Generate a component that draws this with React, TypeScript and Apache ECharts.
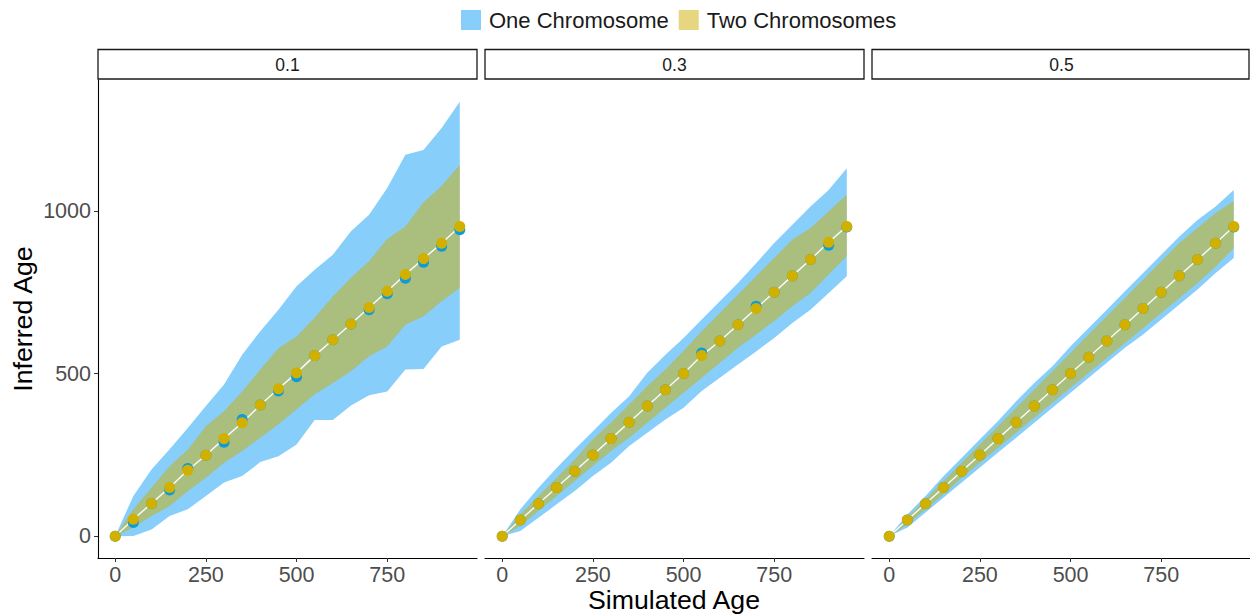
import React, { useEffect, useRef } from "react";
import * as echarts from "echarts";

// ---- data ----
const simAge = [0, 50, 100, 150, 200, 250, 300, 350, 400, 450, 500, 550, 600, 650, 700, 750, 800, 850, 900, 950];
const panelLabels = ["0.1", "0.3", "0.5"];
const xTicks = [0, 250, 500, 750];
const yTicks = [0, 500, 1000];

// panel 0.1
const oneLower1 = [0, 1, 21, 62, 83, 124, 165, 185, 228, 246, 282, 357, 357, 402, 433, 445, 512, 514, 583, 604];
const oneUpper1 = [0, 124, 205, 267, 333, 400, 466, 558, 630, 696, 768, 819, 865, 937, 988, 1070, 1172, 1187, 1254, 1335];
const twoLower1 = [0, 27, 62, 93, 139, 180, 226, 262, 303, 344, 390, 436, 471, 507, 553, 583, 650, 676, 722, 763];
const twoUpper1 = [0, 83, 149, 215, 266, 338, 384, 445, 512, 578, 614, 671, 737, 794, 845, 913, 952, 1026, 1076, 1141];
const oneMean1 = [0, 42, 101, 142, 208, 249, 289, 359, 403, 446, 490, 555, 604, 652, 696, 745, 793, 842, 891, 942];
const twoMean1 = [0, 52, 101, 150, 203, 249, 300, 349, 403, 453, 502, 555, 604, 652, 703, 753, 804, 853, 900, 952];

// panel 0.3
const oneLower2 = [0, 16, 57, 98, 139, 185, 226, 277, 318, 359, 395, 446, 487, 528, 568, 609, 655, 696, 747, 799];
const oneUpper2 = [0, 83, 149, 210, 267, 323, 379, 430, 502, 558, 609, 666, 722, 778, 839, 901, 957, 1013, 1064, 1131];
const twoLower2 = [0, 32, 78, 124, 170, 216, 262, 303, 349, 395, 441, 487, 533, 579, 620, 661, 707, 747, 804, 860];
const twoUpper2 = [0, 67, 124, 180, 236, 298, 349, 405, 461, 512, 569, 630, 686, 742, 799, 855, 911, 947, 998, 1049];
const oneMean2 = [0, 50, 100, 150, 200, 250, 300, 350, 400, 450, 500, 563, 600, 650, 707, 750, 800, 850, 894, 950];
const twoMean2 = [0, 50, 100, 150, 200, 250, 300, 350, 400, 450, 500, 555, 600, 650, 700, 750, 800, 850, 903, 952];

// panel 0.5
const oneLower3 = [0, 27, 73, 119, 165, 211, 257, 303, 349, 395, 441, 487, 533, 579, 620, 666, 712, 758, 809, 855];
const oneUpper3 = [0, 67, 124, 185, 241, 298, 354, 415, 471, 522, 584, 640, 696, 753, 809, 865, 921, 972, 1013, 1064];
const twoLower3 = [0, 37, 83, 129, 180, 226, 272, 318, 364, 410, 456, 502, 548, 594, 640, 686, 732, 778, 829, 885];
const twoUpper3 = [0, 57, 113, 170, 226, 282, 338, 395, 451, 507, 563, 620, 676, 732, 788, 845, 901, 947, 993, 1029];
const oneMean3 = [0, 50, 100, 150, 200, 250, 300, 350, 400, 450, 500, 550, 600, 650, 700, 750, 800, 850, 900, 950];
const twoMean3 = [0, 50, 100, 150, 200, 250, 300, 350, 400, 450, 500, 550, 600, 650, 700, 750, 800, 850, 900, 952];

const panels = [
  { oneLower: oneLower1, oneUpper: oneUpper1, twoLower: twoLower1, twoUpper: twoUpper1, oneMean: oneMean1, twoMean: twoMean1 },
  { oneLower: oneLower2, oneUpper: oneUpper2, twoLower: twoLower2, twoUpper: twoUpper2, oneMean: oneMean2, twoMean: twoMean2 },
  { oneLower: oneLower3, oneUpper: oneUpper3, twoLower: twoLower3, twoUpper: twoUpper3, oneMean: oneMean3, twoMean: twoMean3 },
];

const ONE_NAME = "One Chromosome";
const TWO_NAME = "Two Chromosomes";
const ONE_FILL = "#87CEFA";
const TWO_FILL = "rgba(205,173,0,0.5)";
const ONE_POINT = "#0E9BDD";
const TWO_POINT = "#D1B000";
const FONT = "'Liberation Sans', Arial, Helvetica, sans-serif";

const GRID_LEFTS = [98, 485, 872];
const GRID_W = 379;
const GRID_TOP = 80;
const GRID_H = 478;
const X_MIN = -47.5;
const X_MAX = 997.5;
const Y_MIN = -66.75;
const Y_MAX = 1401.75;

function ribbonSeries(name: string, gridIdx: number, lower: number[], upper: number[], fill: string) {
  const rows = simAge.map((x, k) => [x, lower[k], upper[k]]);
  return {
    type: "custom",
    name,
    xAxisIndex: gridIdx,
    yAxisIndex: gridIdx,
    silent: true,
    z: 1,
    itemStyle: { color: fill },
    encode: { x: 0, y: [1, 2] },
    data: rows,
    renderItem: (params: any, api: any) => {
      if (params.dataIndex !== 0) return null;
      const top = rows.map((r) => api.coord([r[0], r[2]]));
      const bottom = rows.map((r) => api.coord([r[0], r[1]])).reverse();
      return {
        type: "polygon",
        shape: { points: top.concat(bottom) },
        style: { fill, stroke: "none" },
      };
    },
  };
}

export default function App() {
  const ref = useRef<HTMLDivElement>(null);

  useEffect(() => {
    if (!ref.current) return;
    const chart = echarts.init(ref.current, undefined, { renderer: "svg" });

    const grids = GRID_LEFTS.map((left) => ({
      left,
      top: GRID_TOP,
      width: GRID_W,
      height: GRID_H,
      containLabel: false,
      outerBoundsMode: "none",
    }));

    const xAxes = GRID_LEFTS.map((_, i) => ({
      type: "value",
      gridIndex: i,
      min: X_MIN,
      max: X_MAX,
      splitLine: { show: false },
      axisLine: { show: true, onZero: false, lineStyle: { color: "#000000", width: 1.1 } },
      axisTick: { show: true, customValues: xTicks, length: 4, lineStyle: { color: "#333333", width: 1 } },
      axisLabel: {
        show: true,
        customValues: xTicks,
        margin: 6,
        color: "#4D4D4D",
        fontSize: 21.5,
        fontFamily: FONT,
        formatter: (v: number) => String(v),
      },
    }));

    const yAxes = GRID_LEFTS.map((_, i) => ({
      type: "value",
      gridIndex: i,
      min: Y_MIN,
      max: Y_MAX,
      splitLine: { show: false },
      axisLine: { show: i === 0, onZero: false, lineStyle: { color: "#000000", width: 1.1 } },
      axisTick: { show: i === 0, customValues: yTicks, length: 4, lineStyle: { color: "#333333", width: 1 } },
      axisLabel: {
        show: i === 0,
        customValues: yTicks,
        margin: 7,
        color: "#4D4D4D",
        fontSize: 21.5,
        fontFamily: FONT,
        formatter: (v: number) => String(v),
      },
    }));

    const series: any[] = [];
    panels.forEach((p, i) => {
      const pair = (ys: number[]) => simAge.map((x, k) => [x, ys[k]]);
      series.push(ribbonSeries(ONE_NAME, i, p.oneLower, p.oneUpper, ONE_FILL));
      series.push(ribbonSeries(TWO_NAME, i, p.twoLower, p.twoUpper, TWO_FILL));
      series.push({
        type: "line",
        name: "line" + i,
        xAxisIndex: i,
        yAxisIndex: i,
        silent: true,
        z: 2,
        symbol: "none",
        showSymbol: false,
        data: pair(p.twoMean),
        lineStyle: { color: "#FFFFFF", width: 1.4, opacity: 0.95 },
      });
      series.push({
        type: "scatter",
        name: "onePts" + i,
        xAxisIndex: i,
        yAxisIndex: i,
        silent: true,
        z: 4,
        symbolSize: 11,
        data: pair(p.oneMean),
        itemStyle: { color: ONE_POINT, opacity: 1 },
      });
      series.push({
        type: "scatter",
        name: "twoPts" + i,
        xAxisIndex: i,
        yAxisIndex: i,
        silent: true,
        z: 5,
        symbolSize: 11,
        data: pair(p.twoMean),
        itemStyle: { color: TWO_POINT, opacity: 1 },
      });
    });

    const graphics: any[] = [];
    GRID_LEFTS.forEach((left, i) => {
      const w = i === 2 ? 1249 - left : GRID_W;
      graphics.push({
        type: "rect",
        shape: { x: left, y: 49.5, width: w, height: 29.5 },
        style: { fill: "#FFFFFF", stroke: "#1A1A1A", lineWidth: 1.3 },
        silent: true,
      });
      graphics.push({
        type: "text",
        x: left + GRID_W / 2,
        y: 64.5,
        style: {
          text: panelLabels[i],
          font: `17.5px ${FONT}`,
          fill: "#1A1A1A",
          textAlign: "center",
          textVerticalAlign: "middle",
          align: "center",
          verticalAlign: "middle",
        },
        silent: true,
      });
    });
    graphics.push({
      type: "text",
      x: 23,
      y: 319,
      rotation: Math.PI / 2,
      style: {
        text: "Inferred Age",
        font: `26.7px ${FONT}`,
        fill: "#000000",
        textAlign: "center",
        textVerticalAlign: "middle",
        align: "center",
        verticalAlign: "middle",
      },
      silent: true,
    });
    graphics.push({
      type: "text",
      x: 674,
      y: 600,
      style: {
        text: "Simulated Age",
        font: `26.7px ${FONT}`,
        fill: "#000000",
        textAlign: "center",
        textVerticalAlign: "middle",
        align: "center",
        verticalAlign: "middle",
      },
      silent: true,
    });

    chart.setOption({
      animation: false,
      backgroundColor: "#FFFFFF",
      textStyle: { fontFamily: FONT },
      legend: {
        left: 461,
        top: 9,
        orient: "horizontal",
        itemWidth: 20,
        itemHeight: 20,
        itemGap: 10,
        padding: 0,
        icon: "rect",
        selectedMode: false,
        textStyle: { fontSize: 22, color: "#1A1A1A", fontFamily: FONT, padding: [0, 0, 0, 3] },
        data: [
          { name: ONE_NAME, icon: "rect", itemStyle: { color: ONE_FILL } },
          { name: TWO_NAME, icon: "rect", itemStyle: { color: TWO_FILL } },
        ],
      },
      grid: grids,
      xAxis: xAxes,
      yAxis: yAxes,
      series,
      graphic: graphics,
    } as any);

    return () => {
      chart.dispose();
    };
  }, []);

  return (
    <div
      ref={ref}
      style={{ position: "absolute", left: 0, top: 0, width: 1250, height: 616, background: "#FFFFFF" }}
    />
  );
}
